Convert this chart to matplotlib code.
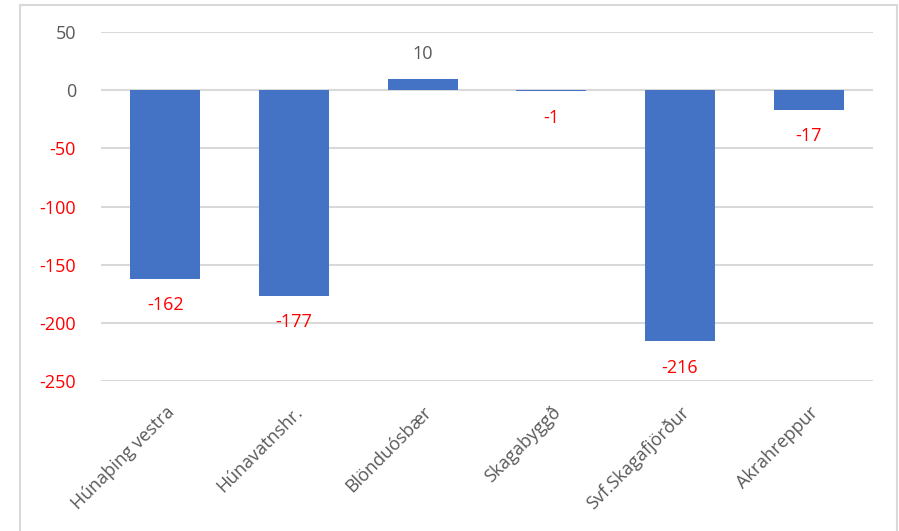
import matplotlib
matplotlib.use("Agg")
import matplotlib.pyplot as plt
from matplotlib.patches import Rectangle

# data
sveitarfelog = ["Húnaþing vestra", "Húnavatnshr.", "Blönduósbær",
                "Skagabyggð", "Svf.Skagafjörður", "Akrahreppur"]
breyting = [-162, -177, 10, -1, -216, -17]
y_ticks = [50, 0, -50, -100, -150, -200, -250]

gray = "#595959"
red = "#FF0000"

plt.rcParams['font.family'] = ['Open Sans', 'DejaVu Sans']

fig = plt.figure(figsize=(8.99, 5.31), dpi=100)
ax = fig.add_axes([0.1123, 0.2825, 0.8587, 0.657])

# outer chart frame like the excel chart area
fig.patches.append(Rectangle((20 / 899, -0.01), 877 / 899, 1 - 5 / 531 + 0.01,
                             transform=fig.transFigure, fill=False,
                             edgecolor="#d9d9d9", linewidth=1.5))

x = range(len(sveitarfelog))
ax.bar(x, breyting, width=0.545, color="#4472C4", zorder=3)

ax.set_xlim(-0.5, len(sveitarfelog) - 0.5)
ax.set_ylim(-250, 50)
ax.set_yticks(y_ticks)
ax.set_yticklabels([str(t) for t in y_ticks], fontsize=13)
for lbl, t in zip(ax.get_yticklabels(), y_ticks):
    lbl.set_color(red if t < 0 else gray)
ax.tick_params(axis="y", length=0, pad=18)
ax.grid(axis="y", color="#d9d9d9", linewidth=1.5, zorder=0)

ax.set_xticks(list(x))
ax.set_xticklabels(sveitarfelog, rotation=45, ha="right", rotation_mode="anchor",
                   fontsize=13, color=gray)
ax.tick_params(axis="x", length=0, pad=16)

for s in ax.spines.values():
    s.set_visible(False)

# data labels
for i, v in enumerate(breyting):
    if v >= 0:
        ax.annotate(str(v), (i, v), xytext=(0, 18), textcoords="offset points",
                    ha="center", va="center", fontsize=13, color=gray)
    else:
        ax.annotate(str(v), (i, v), xytext=(0, -19), textcoords="offset points",
                    ha="center", va="center", fontsize=13, color=red)

fig.savefig("out.png", dpi=100)
